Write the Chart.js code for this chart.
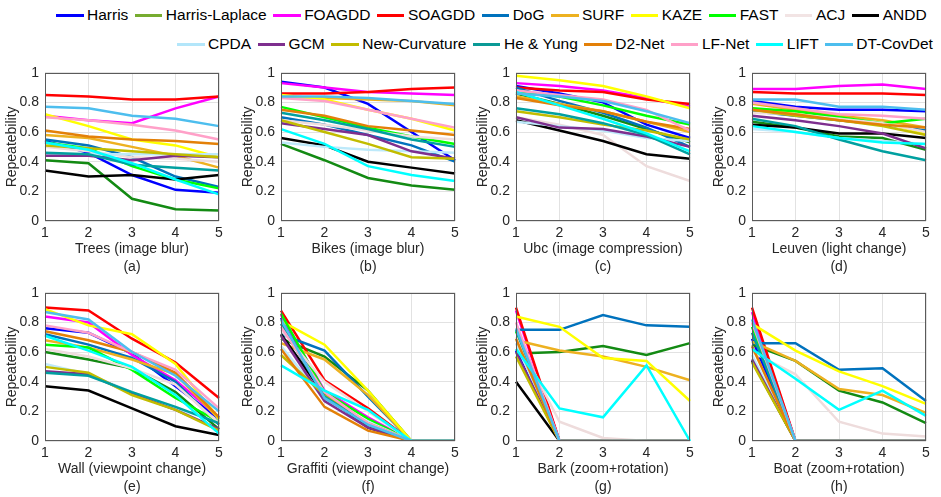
<!DOCTYPE html>
<html>
<head>
<meta charset="utf-8">
<script src="https://cdn.jsdelivr.net/npm/chart.js@4.4.1/dist/chart.umd.min.js"></script>
<style>
  html, body { margin:0; padding:0; background:#fff; }
  body { width:941px; height:497px; position:relative; overflow:hidden; font-family:"Liberation Sans", Arial, sans-serif; }
  .lrow { position:absolute; display:flex; align-items:center; height:20px; font-size:15.5px; color:#000; white-space:nowrap; }
  .item { display:flex; align-items:center; margin-right:6.5px; }
  .sw { display:inline-block; width:27.5px; height:3px; margin-right:3.5px; }
  canvas { position:absolute; }
</style>
</head>
<body>
<div id="legend1" class="lrow" style="left:56px; top:5px;"></div>
<div id="legend2" class="lrow" style="left:177px; top:34px;"></div>

<script>
// ---------- data ----------
const methods = ['Harris','Harris-Laplace','FOAGDD','SOAGDD','DoG','SURF','KAZE','FAST','ACJ','ANDD',
                 'CPDA','GCM','New-Curvature','He & Yung','D2-Net','LF-Net','LIFT','DT-CovDet'];
const lineColors = ['#0000FF','#138A13','#FF00FF','#FF0000','#0072BD','#EDB120','#FFFF00','#00FF00','#EEDCDC','#000000',
                    '#BDE9FA','#7E2F8E','#C2BC00','#00A0A0','#E38008','#FFA0C8','#00FFFF','#4DBEEE'];
const legendColors = ['#0000FF','#77AC30','#FF00FF','#FF0000','#0072BD','#EDB120','#FFFF00','#00FF00','#F2E4E4','#000000',
                      '#B3E6FA','#7E2F8E','#C2BC00','#0A9A96','#E38008','#FFA0C8','#00FFFF','#4DBEEE'];
const xTickLabels = ['1','2','3','4','5'];
const yTickLabels = ['0','0.2','0.4','0.6','0.8','1'];
const xTitles = ['Trees (image blur)','Bikes (image blur)','Ubc (image compression)','Leuven (light change)',
                 'Wall (viewpoint change)','Graffiti (viewpoint change)','Bark (zoom+rotation)','Boat (zoom+rotation)'];
const panelLetters = ['(a)','(b)','(c)','(d)','(e)','(f)','(g)','(h)'];

// rows follow the order of `methods`
const trees = [
  [0.54,0.46,0.31,0.21,0.19],[0.41,0.39,0.15,0.08,0.07],[0.71,0.68,0.66,0.76,0.84],[0.85,0.84,0.82,0.82,0.84],
  [0.55,0.51,0.43,0.30,0.23],[0.58,0.56,0.50,0.44,0.36],[0.72,0.64,0.55,0.51,0.43],[0.53,0.49,0.37,0.28,0.22],
  [0.50,0.47,0.43,0.42,0.40],[0.34,0.30,0.31,0.28,0.31],[0.45,0.45,0.45,0.45,0.45],[0.44,0.44,0.41,0.44,0.43],
  [0.51,0.49,0.47,0.45,0.43],[0.46,0.45,0.38,0.36,0.34],[0.61,0.57,0.55,0.54,0.52],[0.70,0.68,0.65,0.61,0.55],
  [0.53,0.48,0.39,0.28,0.18],[0.77,0.76,0.71,0.69,0.64]
];
const bikes = [
  [0.94,0.90,0.79,0.60,0.41],[0.52,0.41,0.29,0.24,0.21],[0.93,0.90,0.87,0.86,0.85],[0.86,0.86,0.87,0.89,0.90],
  [0.70,0.65,0.58,0.51,0.40],[0.84,0.83,0.82,0.81,0.78],[0.85,0.82,0.75,0.69,0.61],[0.77,0.70,0.63,0.57,0.52],
  [0.68,0.65,0.61,0.57,0.55],[0.56,0.51,0.40,0.36,0.32],[0.53,0.50,0.48,0.47,0.46],[0.66,0.62,0.58,0.47,0.42],
  [0.68,0.60,0.52,0.43,0.42],[0.73,0.68,0.62,0.55,0.50],[0.75,0.71,0.64,0.61,0.58],[0.83,0.81,0.75,0.69,0.63],
  [0.62,0.52,0.37,0.31,0.27],[0.84,0.84,0.83,0.81,0.79]
];
const ubc = [
  [0.91,0.86,0.80,0.65,0.56],[0.86,0.79,0.71,0.62,0.53],[0.93,0.91,0.88,0.83,0.77],[0.90,0.88,0.87,0.82,0.79],
  [0.90,0.81,0.73,0.63,0.50],[0.84,0.79,0.74,0.67,0.60],[0.98,0.95,0.91,0.84,0.76],[0.87,0.84,0.78,0.71,0.65],
  [0.70,0.65,0.58,0.37,0.27],[0.68,0.61,0.54,0.45,0.42],[0.67,0.64,0.61,0.56,0.54],[0.70,0.63,0.62,0.57,0.50],
  [0.74,0.70,0.65,0.61,0.55],[0.76,0.72,0.66,0.58,0.45],[0.83,0.78,0.74,0.67,0.62],[0.88,0.85,0.82,0.75,0.61],
  [0.87,0.78,0.69,0.59,0.47],[0.86,0.84,0.81,0.74,0.66]
];
const leuven = [
  [0.81,0.77,0.75,0.75,0.74],[0.67,0.63,0.57,0.56,0.48],[0.89,0.89,0.91,0.92,0.89],[0.87,0.86,0.86,0.86,0.85],
  [0.74,0.71,0.68,0.65,0.61],[0.79,0.75,0.71,0.68,0.63],[0.76,0.72,0.69,0.66,0.59],[0.76,0.74,0.70,0.66,0.69],
  [0.73,0.72,0.69,0.66,0.60],[0.65,0.63,0.59,0.59,0.56],[0.62,0.60,0.56,0.54,0.52],[0.71,0.68,0.64,0.59,0.49],
  [0.75,0.71,0.68,0.64,0.58],[0.69,0.64,0.55,0.47,0.41],[0.75,0.72,0.68,0.65,0.63],[0.80,0.76,0.72,0.71,0.69],
  [0.64,0.60,0.56,0.53,0.52],[0.82,0.82,0.77,0.77,0.75]
];
const wall = [
  [0.76,0.73,0.59,0.37,0.15],[0.60,0.55,0.49,0.33,0.08],[0.84,0.80,0.58,0.41,0.16],[0.90,0.88,0.69,0.53,0.29],
  [0.72,0.65,0.56,0.40,0.11],[0.68,0.63,0.55,0.45,0.15],[0.89,0.78,0.72,0.52,0.15],[0.65,0.63,0.48,0.29,0.13],
  [0.62,0.57,0.49,0.38,0.12],[0.37,0.34,0.22,0.10,0.04],[0.52,0.45,0.33,0.22,0.07],[0.47,0.45,0.32,0.21,0.08],
  [0.50,0.46,0.31,0.21,0.07],[0.46,0.44,0.33,0.23,0.12],[0.74,0.68,0.60,0.46,0.16],[0.78,0.73,0.60,0.48,0.22],
  [0.71,0.61,0.50,0.31,0.05],[0.87,0.82,0.60,0.44,0.20]
];
const graffiti = [
  [0.83,0.30,0.12,0,0],[0.69,0.57,0.34,0,0],[0.85,0.34,0.16,0,0],[0.88,0.41,0.22,0,0],
  [0.72,0.61,0.30,0,0],[0.66,0.55,0.31,0,0],[0.81,0.65,0.34,0,0],[0.86,0.33,0.15,0,0],
  [0.75,0.40,0.20,0,0],[0.72,0.31,0.09,0,0],[0.64,0.28,0.13,0,0],[0.71,0.27,0.09,0,0],
  [0.58,0.31,0.12,0,0],[0.79,0.30,0.11,0,0],[0.62,0.23,0.07,0,0],[0.77,0.33,0.12,0,0],
  [0.51,0.34,0.21,0,0],[0.82,0.29,0.11,0,0]
];
const bark = [
  [0.61,0,0,0,0],[0.59,0.60,0.64,0.58,0.66],[0.88,0,0,0,0],[0.90,0,0,0,0],
  [0.75,0.75,0.85,0.78,0.77],[0.68,0.61,0.57,0.50,0.41],[0.84,0.77,0.56,0.54,0.27],[0.74,0,0,0,0],
  [0.70,0.13,0.02,0,0],[0.40,0,0,0,0],[0.66,0,0,0,0],[0.60,0,0,0,0],
  [0.57,0,0,0,0],[0.75,0,0,0,0],[0.69,0,0,0,0],[0.80,0,0,0,0],
  [0.62,0.22,0.16,0.51,0],[0.76,0,0,0,0]
];
const boat = [
  [0.69,0,0,0,0],[0.65,0.54,0.34,0.26,0.12],[0.87,0,0,0,0],[0.90,0,0,0,0],
  [0.66,0.66,0.48,0.49,0.27],[0.67,0.54,0.35,0.31,0.19],[0.79,0.61,0.47,0.37,0.25],[0.77,0,0,0,0],
  [0.60,0.45,0.13,0.05,0.03],[0.54,0,0,0,0],[0.58,0,0,0,0],[0.55,0,0,0,0],
  [0.53,0,0,0,0],[0.73,0,0,0,0],[0.64,0,0,0,0],[0.80,0,0,0,0],
  [0.62,0.42,0.21,0.34,0.17],[0.82,0,0,0,0]
];
const panels = [trees, bikes, ubc, leuven, wall, graffiti, bark, boat];

// ---------- legend ----------
function addLegend(el, from, to) {
  for (let i = from; i < to; i++) {
    const it = document.createElement('div'); it.className = 'item';
    const sw = document.createElement('span'); sw.className = 'sw'; sw.style.background = legendColors[i];
    const tx = document.createElement('span'); tx.textContent = methods[i];
    it.appendChild(sw); it.appendChild(tx); el.appendChild(it);
  }
}
addLegend(document.getElementById('legend1'), 0, 10);
addLegend(document.getElementById('legend2'), 10, 18);

// ---------- charts ----------
const FONT = {family:'"Liberation Sans", Arial, sans-serif', size:14, lineHeight:1.25};
const TXT = '#262626';
const boxPlugin = {
  id:'box',
  afterDraw(chart) {
    const a = chart.chartArea, c = chart.ctx;
    c.save(); c.strokeStyle = '#5a5a5a'; c.lineWidth = 1;
    c.strokeRect(Math.round(a.left)+0.5, Math.round(a.top)+0.5, Math.round(a.right-a.left)-1, Math.round(a.bottom-a.top)-1);
    c.restore();
  }
};
const colLeft = [0, 236, 471, 707];
const rowTop = [58, 278];
const N = methods.length;

panels.forEach((vals, p) => {
  const cv = document.createElement('canvas');
  cv.width = 227; cv.height = 219;
  cv.style.left = colLeft[p % 4] + 'px';
  cv.style.top = rowTop[Math.floor(p / 4)] + 'px';
  document.body.appendChild(cv);
  new Chart(cv.getContext('2d'), {
    type:'line',
    data:{
      labels: xTickLabels,
      datasets: methods.map((m, i) => ({
        label:m, data:vals[i], borderColor:lineColors[i], backgroundColor:lineColors[i],
        borderWidth:2.5, pointRadius:0, tension:0, fill:false, order:N-1-i
      }))
    },
    options:{
      responsive:false, animation:false, devicePixelRatio:1,
      layout:{padding:{top:10, right:8, left:0, bottom:0}},
      plugins:{legend:{display:false}, tooltip:{enabled:false}},
      scales:{
        x:{
          type:'category', offset:false,
          grid:{color:'#e2e2e2', drawTicks:false}, border:{display:false},
          ticks:{padding:3, font:FONT, color:TXT, maxRotation:0, autoSkip:false},
          title:{display:true, text:[xTitles[p], panelLetters[p]], font:FONT, color:TXT, padding:{top:0, bottom:1.25}},
          afterFit(s){ s.height = 56; }
        },
        y:{
          min:0, max:1,
          grid:{color:'#e2e2e2', drawTicks:false}, border:{display:false},
          ticks:{stepSize:0.2, padding:6, font:FONT, color:TXT, callback:(v, i) => yTickLabels[i]},
          title:{display:true, text:'Repeatebility', font:FONT, color:TXT, padding:{top:3.25, bottom:0}},
          afterFit(s){ s.width = 45; }
        }
      }
    },
    plugins:[boxPlugin]
  });
});
</script>
</body>
</html>
